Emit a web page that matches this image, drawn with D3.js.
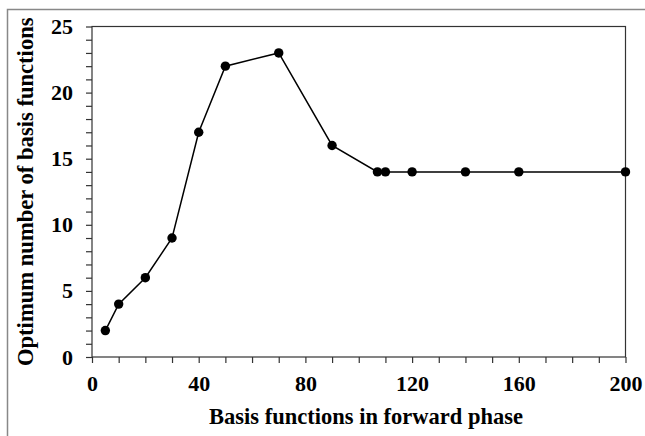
<!DOCTYPE html>
<html>
<head>
<meta charset="utf-8">
<script src="https://cdn.jsdelivr.net/npm/d3@7"></script>
<style>
	body { margin: 0; background: #fff; }
	text { font-family: "Liberation Serif", "Times New Roman", serif; font-weight: bold; }
</style>
</head>
<body>
<svg></svg>
<script>
// basis functions in forward phase vs optimum number kept
const forwardBasis = [5, 10, 20, 30, 40, 50, 70, 90, 107, 110, 120, 140, 160, 200];
const optimumBasis = [2, 4, 6, 9, 17, 22, 23, 16, 14, 14, 14, 14, 14, 14];
const xTickLabels = [0, 40, 80, 120, 160, 200];
const yTickLabels = [0, 5, 10, 15, 20, 25];

const svgWidth = 645;
const svgHeight = 436;
const margins = {top: 26.5, right: 19.5, bottom: 79, left: 92};

const data = forwardBasis.map((x, i) => ({x: x, y: optimumBasis[i]}));

const chart = d3.select('svg')
	.attr('width', svgWidth)
	.attr('height', svgHeight);

// outer frame (cropped on right and bottom)
chart.append('path')
	.attr('d', `M7.5,${svgHeight} V9.5 H${svgWidth}`)
	.attr('fill', 'none')
	.attr('stroke', '#888')
	.attr('stroke-width', 1.5);

const scaleX = d3.scaleLinear()
	.domain([0, 200])
	.range([margins.left, svgWidth - margins.right]);

const scaleY = d3.scaleLinear()
	.domain([0, 25])
	.range([svgHeight - margins.bottom, margins.top]);

// plot box
chart.append('rect')
	.attr('x', scaleX(0))
	.attr('y', scaleY(25))
	.attr('width', scaleX(200) - scaleX(0))
	.attr('height', scaleY(0) - scaleY(25))
	.attr('fill', 'none')
	.attr('stroke', '#333')
	.attr('stroke-width', 1.2);

// x-axis minor ticks
chart.append('g')
	.attr('transform', `translate(0, ${scaleY(0)})`)
	.call(d3.axisBottom(scaleX).tickValues(d3.range(0, 201, 10)).tickSize(6).tickFormat(''))
	.call(g => g.select('.domain').remove())
	.call(g => g.selectAll('line').attr('stroke', '#333').attr('stroke-width', 1.2));

// x-axis labels
chart.append('g')
	.attr('transform', `translate(0, ${scaleY(0)})`)
	.call(d3.axisBottom(scaleX).tickValues(xTickLabels).tickSize(0).tickPadding(18))
	.call(g => g.select('.domain').remove())
	.call(g => g.selectAll('text').attr('font-size', 22).attr('fill', '#000')
		.style('font-family', '"Liberation Serif", serif'));

// y-axis minor ticks
chart.append('g')
	.attr('transform', `translate(${scaleX(0)}, 0)`)
	.call(d3.axisLeft(scaleY).tickValues(d3.range(0, 26, 1)).tickSize(6).tickFormat(''))
	.call(g => g.select('.domain').remove())
	.call(g => g.selectAll('line').attr('stroke', '#333').attr('stroke-width', 1.2));

// y-axis labels
chart.append('g')
	.attr('transform', `translate(${scaleX(0)}, 0)`)
	.call(d3.axisLeft(scaleY).tickValues(yTickLabels).tickSize(0).tickPadding(19))
	.call(g => g.select('.domain').remove())
	.call(g => g.selectAll('text').attr('font-size', 22).attr('fill', '#000')
		.style('font-family', '"Liberation Serif", serif'));

// line
const line = d3.line()
	.x(d => scaleX(d.x))
	.y(d => scaleY(d.y));

chart.append('path')
	.datum(data)
	.attr('fill', 'none')
	.attr('stroke', '#000')
	.attr('stroke-width', 1.5)
	.attr('d', line);

chart.append('g')
	.selectAll('circle')
	.data(data)
	.join('circle')
	.attr('cx', d => scaleX(d.x))
	.attr('cy', d => scaleY(d.y))
	.attr('r', 4.7)
	.attr('fill', '#000');

// axis titles
chart.append('text')
	.attr('x', 366)
	.attr('y', 424)
	.attr('text-anchor', 'middle')
	.attr('font-size', 22.5)
	.text('Basis functions in forward phase');

chart.append('text')
	.attr('transform', `translate(33, ${(scaleY(0) + scaleY(25)) / 2}) rotate(-90)`)
	.attr('text-anchor', 'middle')
	.attr('font-size', 22.6)
	.text('Optimum number of basis functions');
</script>
</body>
</html>
